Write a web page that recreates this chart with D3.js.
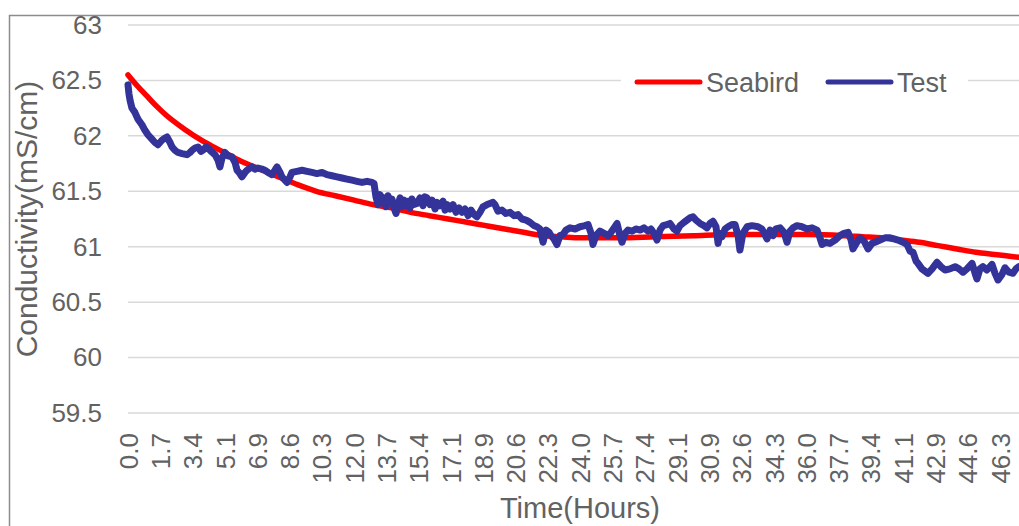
<!DOCTYPE html>
<html>
<head>
<meta charset="utf-8">
<script src="https://cdn.jsdelivr.net/npm/d3@7"></script>
<style>
  html, body { margin: 0; padding: 0; background: #fff; }
  svg { display: block; font-family: "Liberation Sans", Arial, sans-serif; }
</style>
</head>
<body>
<svg id="chart" width="1019" height="526"></svg>
<script>
// Seabird reference curve (hours, mS/cm)
var seabirdHours = [0, 0.5, 1, 1.5, 2, 3, 4, 5, 6, 7, 8, 9, 10, 11, 12, 13, 14, 15, 16, 17, 18, 19, 20, 21, 22, 23, 24,
  26, 28, 30, 32, 34, 36, 38, 39, 40, 41, 42, 43, 44, 45, 46, 47, 48];
var seabirdValues = [62.55, 62.45, 62.36, 62.27, 62.19, 62.06, 61.95, 61.86, 61.77, 61.70, 61.63, 61.56, 61.50, 61.46, 61.42,
  61.38, 61.35, 61.31, 61.28, 61.25, 61.22, 61.19, 61.16, 61.13, 61.10, 61.09, 61.08,
  61.08, 61.09, 61.10, 61.11, 61.11, 61.11, 61.10, 61.09, 61.08, 61.06, 61.04, 61.01, 60.98, 60.95, 60.93, 60.91, 60.89];

// Test sensor readings
var testHours = [0, 0.05, 0.11, 0.21, 0.37, 0.53, 0.74, 0.90, 1.06, 1.27, 1.43, 1.59, 1.80, 1.96, 2.07, 2.23, 2.34,
  2.49, 2.65, 2.87, 3.13, 3.29, 3.40, 3.56, 3.72, 3.87, 3.98, 4.14, 4.25, 4.41, 4.62, 4.78, 4.88, 4.99, 5.15,
  5.31, 5.52, 5.68, 5.79, 5.94, 6.05, 6.21, 6.32, 6.48, 6.58, 6.74, 6.90, 7.11, 7.27, 7.43, 7.64, 7.80, 7.91,
  8.07, 8.17, 8.33, 8.44, 8.60, 8.70, 8.97, 9.24, 9.50, 9.77, 10.03, 10.30, 10.56, 10.83, 11.09, 11.36, 11.62,
  11.89, 12.15, 12.42, 12.69, 12.95, 13.06, 13.16, 13.27, 13.38, 13.48, 13.59, 13.69, 13.80, 13.91, 14.01,
  14.12, 14.23, 14.33, 14.44, 14.54, 14.65, 14.76, 14.86, 14.97, 15.07, 15.18, 15.34, 15.50, 15.66, 15.76,
  15.87, 16.03, 16.14, 16.30, 16.40, 16.56, 16.72, 16.83, 16.93, 17.09, 17.25, 17.41, 17.57, 17.73, 17.89,
  18.05, 18.21, 18.37, 18.52, 18.68, 18.84, 19.06, 19.21, 19.37, 19.48, 19.64, 19.85, 20.06, 20.28, 20.49,
  20.70, 20.91, 21.13, 21.34, 21.55, 21.71, 21.87, 22.03, 22.19, 22.35, 22.45, 22.61, 22.77, 22.93, 23.09,
  23.25, 23.46, 23.73, 23.99, 24.26, 24.42, 24.58, 24.68, 24.84, 25.05, 25.27, 25.48, 25.64, 25.80, 25.96,
  26.11, 26.22, 26.38, 26.54, 26.75, 26.96, 27.18, 27.39, 27.60, 27.76, 27.92, 28.08, 28.24, 28.40, 28.61,
  28.77, 28.98, 29.14, 29.30, 29.51, 29.67, 29.83, 29.99, 30.15, 30.36, 30.57, 30.73, 30.89, 31.05, 31.21,
  31.32, 31.42, 31.53, 31.69, 31.85, 32.06, 32.22, 32.38, 32.48, 32.64, 32.86, 33.12, 33.44, 33.65, 33.92,
  34.08, 34.24, 34.39, 34.61, 34.82, 34.98, 35.14, 35.30, 35.51, 35.77, 36.04, 36.31, 36.57, 36.73, 36.84,
  37.05, 37.26, 37.53, 37.79, 38.00, 38.22, 38.38, 38.48, 38.69, 38.85, 39.07, 39.28, 39.49, 39.65, 39.92,
  40.18, 40.45, 40.66, 40.87, 41.14, 41.35, 41.51, 41.67, 41.83, 41.93, 42.14, 42.30, 42.46, 42.68, 42.94,
  43.15, 43.37, 43.63, 43.90, 44.11, 44.32, 44.53, 44.80, 44.96, 45.06, 45.22, 45.38, 45.59, 45.86, 46.02,
  46.18, 46.39, 46.55, 46.76, 46.97, 47.13, 47.29, 47.45];
var testValues = [62.46, 62.38, 62.32, 62.25, 62.21, 62.15, 62.10, 62.05, 62.01, 61.97, 61.94, 61.92, 61.96, 61.98,
  61.99, 61.94, 61.90, 61.87, 61.85, 61.84, 61.83, 61.85, 61.87, 61.89, 61.90, 61.86, 61.87, 61.90, 61.89,
  61.86, 61.83, 61.78, 61.72, 61.80, 61.85, 61.82, 61.81, 61.76, 61.69, 61.66, 61.63, 61.67, 61.69, 61.71,
  61.72, 61.70, 61.71, 61.70, 61.69, 61.67, 61.65, 61.69, 61.72, 61.67, 61.63, 61.60, 61.58, 61.63, 61.67,
  61.68, 61.69, 61.68, 61.67, 61.66, 61.67, 61.65, 61.64, 61.63, 61.62, 61.61, 61.60, 61.59, 61.58, 61.59,
  61.58, 61.57, 61.45, 61.38, 61.47, 61.40, 61.44, 61.36, 61.46, 61.40, 61.43, 61.35, 61.30, 61.38, 61.44,
  61.36, 61.42, 61.37, 61.41, 61.35, 61.43, 61.38, 61.39, 61.44, 61.37, 61.45, 61.44, 61.38, 61.42, 61.34,
  61.40, 61.37, 61.41, 61.33, 61.38, 61.34, 61.38, 61.31, 61.35, 61.31, 61.34, 61.28, 61.33, 61.29, 61.27,
  61.31, 61.36, 61.38, 61.39, 61.40, 61.38, 61.32, 61.33, 61.30, 61.31, 61.28, 61.29, 61.25, 61.24, 61.22,
  61.19, 61.18, 61.16, 61.04, 61.15, 61.13, 61.10, 61.07, 61.02, 61.10, 61.11, 61.15, 61.17, 61.16, 61.18,
  61.19, 61.20, 61.12, 61.02, 61.10, 61.14, 61.12, 61.10, 61.13, 61.17, 61.21, 61.10, 61.04, 61.12, 61.15,
  61.14, 61.16, 61.15, 61.17, 61.14, 61.16, 61.12, 61.06, 61.15, 61.19, 61.20, 61.21, 61.16, 61.14, 61.19,
  61.22, 61.24, 61.26, 61.27, 61.24, 61.21, 61.19, 61.17, 61.21, 61.23, 61.18, 61.03, 61.12, 61.09, 61.16,
  61.18, 61.20, 61.20, 61.10, 60.97, 61.12, 61.18, 61.19, 61.18, 61.16, 61.07, 61.15, 61.10, 61.16, 61.17,
  61.13, 61.04, 61.14, 61.17, 61.19, 61.18, 61.16, 61.17, 61.15, 61.08, 61.02, 61.04, 61.03, 61.06, 61.10,
  61.12, 61.13, 61.06, 60.98, 61.04, 61.08, 61.05, 60.98, 61.03, 61.04, 61.06, 61.08, 61.08, 61.07, 61.06,
  61.04, 61.02, 60.96, 60.95, 60.87, 60.85, 60.80, 60.78, 60.76, 60.80, 60.86, 60.82, 60.79, 60.80, 60.82,
  60.80, 60.77, 60.80, 60.85, 60.76, 60.71, 60.80, 60.82, 60.79, 60.84, 60.76, 60.70, 60.75, 60.81, 60.77,
  60.76, 60.80, 60.82, 60.80];

var yTicks = [59.5, 60, 60.5, 61, 61.5, 62, 62.5, 63];
var xTickStep = 12 / 7;   // label every 1.714 h
var xTickCount = 28;
var xTicks = d3.range(xTickCount).map(function(i) { return i * xTickStep; });

var seriesNames = ["Seabird", "Test"];
var seriesColors = ["#ff0000", "#333399"];

var svg = d3.select("#chart");
var W = 1019, H = 526;
var textColor = "#626262";

var x = d3.scaleLinear().domain([0, 48]).range([128, 128 + 48 * 18.84]);
var y = d3.scaleLinear().domain([59.5, 63]).range([413, 25]);

// chart border (right/bottom sides fall outside the crop)
svg.append("rect")
  .attr("x", 9.5).attr("y", 15.5)
  .attr("width", W + 50).attr("height", H + 50)
  .attr("fill", "#fff")
  .attr("stroke", "#8c8c8c")
  .attr("stroke-width", 1.5);

// gridlines
svg.append("g")
  .selectAll("line")
  .data(yTicks)
  .enter().append("line")
  .attr("x1", 128).attr("x2", W + 10)
  .attr("y1", function(d) { return y(d); })
  .attr("y2", function(d) { return y(d); })
  .attr("stroke", "#d9d9d9")
  .attr("stroke-width", 1.5);

// y axis
var yAxis = svg.append("g")
  .attr("transform", "translate(128,0)")
  .call(d3.axisLeft(y).tickValues(yTicks).tickSize(0).tickPadding(26)
    .tickFormat(function(d) { return String(d); }));
yAxis.select(".domain").remove();
yAxis.selectAll("text")
  .attr("fill", textColor)
  .style("font-size", "26px")
  .style("font-family", "Liberation Sans, Arial, sans-serif");

// x axis (rotated labels)
var xAxis = svg.append("g")
  .attr("transform", "translate(0,413)")
  .call(d3.axisBottom(x).tickValues(xTicks).tickSize(0)
    .tickFormat(d3.format(".1f")));
xAxis.select(".domain").remove();
xAxis.selectAll("text")
  .attr("fill", textColor)
  .style("font-size", "26px")
  .style("font-family", "Liberation Sans, Arial, sans-serif")
  .attr("text-anchor", "end")
  .attr("y", 0)
  .attr("dy", "0.35em")
  .attr("transform", "translate(0,20) rotate(-90)");

// axis titles
svg.append("text")
  .attr("transform", "translate(37,219) rotate(-90)")
  .attr("text-anchor", "middle")
  .attr("fill", textColor)
  .style("font-size", "30px")
  .text("Conductivity(mS/cm)");

svg.append("text")
  .attr("x", 580).attr("y", 518)
  .attr("text-anchor", "middle")
  .attr("fill", textColor)
  .style("font-size", "29px")
  .text("Time(Hours)");

// series
svg.append("clipPath").attr("id", "plotclip")
  .append("rect").attr("x", 100).attr("y", 0).attr("width", W).attr("height", 430);

var line = d3.line()
  .x(function(d) { return x(d[0]); })
  .y(function(d) { return y(d[1]); });

var seabird = seabirdHours.map(function(h, i) { return [h, seabirdValues[i]]; });
var test = testHours.map(function(h, i) { return [h, testValues[i]]; });

var plot = svg.append("g").attr("clip-path", "url(#plotclip)");

plot.append("path")
  .datum(seabird)
  .attr("d", line.curve(d3.curveMonotoneX))
  .attr("fill", "none")
  .attr("stroke", seriesColors[0])
  .attr("stroke-width", 5.5)
  .attr("stroke-linejoin", "round")
  .attr("stroke-linecap", "round");

plot.append("path")
  .datum(test)
  .attr("d", line.curve(d3.curveLinear))
  .attr("fill", "none")
  .attr("stroke", seriesColors[1])
  .attr("stroke-width", 7)
  .attr("stroke-linejoin", "round")
  .attr("stroke-linecap", "round");

// legend
var legend = svg.append("g");
legend.append("rect")
  .attr("x", 621).attr("y", 62).attr("width", 347).attr("height", 40)
  .attr("fill", "#fff");

var legendX = [637, 828];
var item = legend.selectAll("g.item")
  .data(seriesNames)
  .enter().append("g")
  .attr("class", "item")
  .attr("transform", function(d, i) { return "translate(" + legendX[i] + ",82)"; });

item.append("line")
  .attr("x1", 0).attr("x2", 63)
  .attr("stroke", function(d, i) { return seriesColors[i]; })
  .attr("stroke-width", 5)
  .attr("stroke-linecap", "round");

item.append("text")
  .attr("x", 69).attr("y", 10)
  .attr("fill", textColor)
  .style("font-size", "27px")
  .text(function(d) { return d; });
</script>
</body>
</html>
